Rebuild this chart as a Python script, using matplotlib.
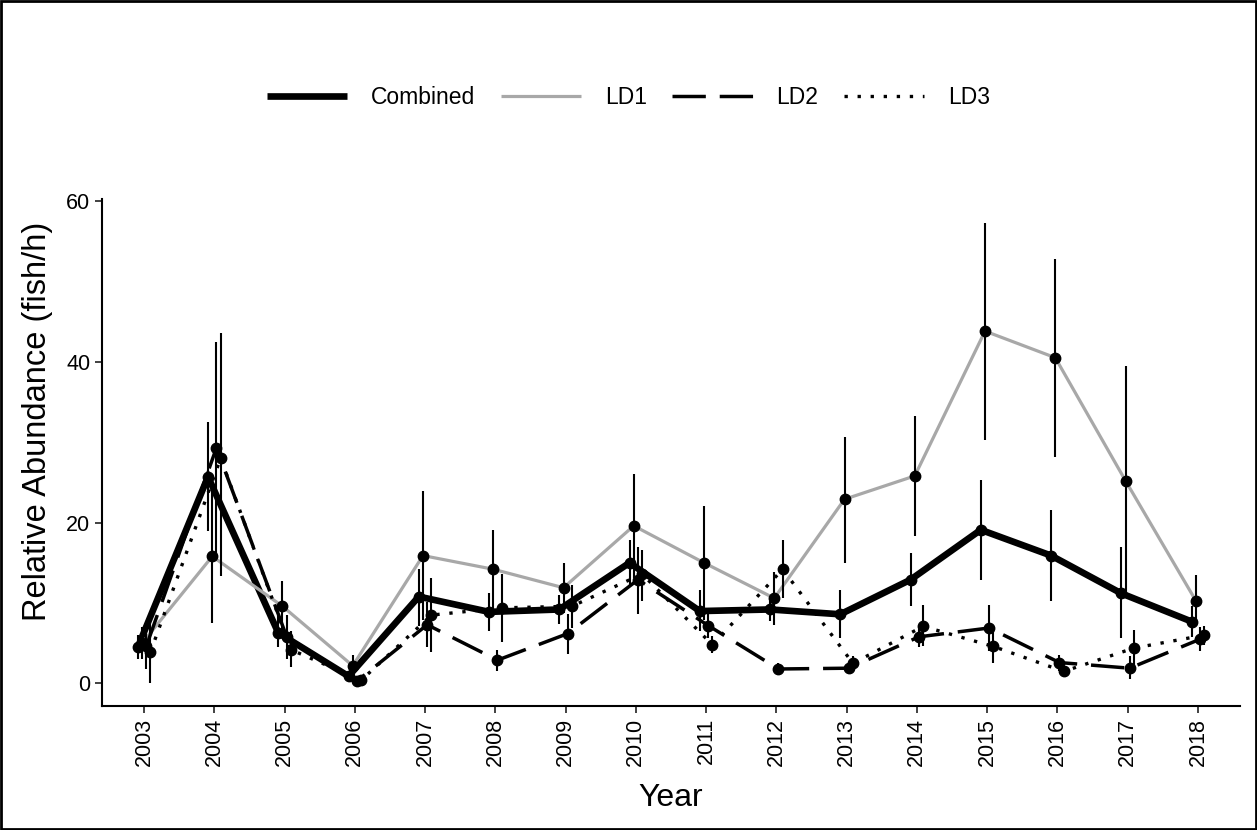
import numpy as np
import matplotlib
matplotlib.use("Agg")
import matplotlib.pyplot as plt
from matplotlib.patches import Rectangle

plt.rcParams["font.family"] = ["Liberation Sans", "DejaVu Sans"]
plt.rcParams["lines.scale_dashes"] = False

# valores
years = list(range(2003, 2019))
series_names = ["Combined", "LD1", "LD2", "LD3"]

combined    = [4.5, 25.7, 6.3, 0.9, 10.8, 8.9, 9.2, 15.0, 9.0, 9.2, 8.6, 12.9, 19.1, 15.9, 11.2, 7.7]
combined_lo = [3.0, 19.0, 4.5, 0.4, 7.2, 6.5, 7.4, 12.3, 6.5, 7.8, 5.6, 9.6, 12.9, 10.2, 5.6, 5.8]
combined_hi = [6.0, 32.5, 8.5, 1.4, 14.2, 11.3, 11.0, 17.8, 11.6, 10.6, 11.6, 16.2, 25.3, 21.6, 17.0, 9.6]

ld1    = [5.0, 15.8, 9.6, 2.2, 15.9, 14.2, 11.9, 19.6, 15.0, 10.6, 22.9, 25.8, 43.8, 40.5, 25.2, 10.3]
ld1_lo = [3.0, 7.5, 6.3, 0.8, 7.9, 9.3, 8.8, 13.1, 7.9, 7.3, 15.0, 18.3, 30.3, 28.2, 10.9, 7.1]
ld1_hi = [7.0, 24.1, 12.8, 3.6, 23.9, 19.1, 15.0, 26.1, 22.1, 13.9, 30.7, 33.3, 57.3, 52.8, 39.5, 13.5]

ld2    = [4.6, 29.3, 5.8, 0.3, 7.3, 2.9, 6.2, 12.9, 7.2, 1.8, 1.9, 5.8, 6.9, 2.6, 1.9, 5.5]
ld2_lo = [1.8, 16.2, 3.0, 0.0, 4.5, 1.6, 3.7, 8.6, 5.6, 1.0, 1.2, 4.5, 4.0, 1.6, 0.5, 4.0]
ld2_hi = [7.4, 42.4, 8.5, 0.7, 10.1, 4.2, 8.6, 17.0, 8.8, 2.6, 2.6, 7.1, 9.8, 3.6, 3.4, 7.0]

ld3    = [3.9, 28.0, 4.2, 0.4, 8.5, 9.4, 9.6, 13.6, 4.8, 14.2, 2.5, 7.1, 4.6, 1.5, 4.4, 6.0]
ld3_lo = [0.0, 13.3, 2.0, 0.1, 3.9, 5.2, 6.9, 10.2, 3.8, 10.6, 1.6, 4.6, 2.6, 0.9, 2.2, 4.8]
ld3_hi = [7.8, 43.6, 6.5, 0.8, 13.1, 13.6, 12.2, 16.6, 5.9, 17.8, 3.4, 9.8, 6.6, 2.1, 6.6, 7.2]


def main():
    fig = plt.figure(figsize=(12.57, 8.3), dpi=100)
    ax = fig.add_axes([0.0811, 0.1494, 0.9054, 0.6106])

    values = [combined, ld1, ld2, ld3]
    lows = [combined_lo, ld1_lo, ld2_lo, ld3_lo]
    highs = [combined_hi, ld1_hi, ld2_hi, ld3_hi]

    # estilos de cada série (dodge pequeno como no ggplot)
    styles = [
        dict(color="black", lw=4.8, ls="-", off=-0.09),
        dict(color="#a8a8a8", lw=2.3, ls="-", off=-0.03),
        dict(color="black", lw=2.5, ls=(0, (24, 10)), off=0.03),
        dict(color="black", lw=2.4, ls=(0, (2.4, 7)), off=0.09),
    ]

    x = np.array(years, dtype=float)
    handles = []
    for name, v, lo, hi, st in zip(series_names, values, lows, highs, styles):
        xs = x + st["off"]
        (ln,) = ax.plot(xs, v, color=st["color"], lw=st["lw"], ls=st["ls"],
                        solid_capstyle="butt", dash_capstyle="butt",
                        solid_joinstyle="miter", label=name, zorder=2)
        handles.append(ln)
        ax.vlines(xs, lo, hi, color="black", lw=1.5, zorder=3)
        ax.plot(xs, v, "o", color="black", ms=7.5, zorder=4)

    ax.set_xlim(2002.4, 2018.6)
    ax.set_ylim(-2.8, 60.2)
    ax.set_xticks(years)
    ax.set_xticklabels([str(y) for y in years], rotation=90)
    ax.set_yticks([0, 20, 40, 60])

    for side in ["top", "right"]:
        ax.spines[side].set_visible(False)
    for side in ["left", "bottom"]:
        ax.spines[side].set_linewidth(1.5)
    ax.tick_params(axis="both", labelsize=15.5, width=1.3, length=5,
                   color="#333333", labelcolor="black")

    ax.set_xlabel("Year", fontsize=23)
    ax.set_ylabel("Relative Abundance (fish/h)", fontsize=23.5)
    ax.xaxis.set_label_coords(0.5, -0.152)
    ax.yaxis.set_label_coords(-0.043, 0.562)

    fig.legend(handles=handles, labels=series_names, loc="center",
               bbox_to_anchor=(0.5, 0.882), ncol=4, frameon=False,
               fontsize=16.5, handlelength=3.5, handletextpad=1.05,
               columnspacing=1.1)

    # moldura em volta da figura
    fig.patches.append(Rectangle((0.001, 0.001), 0.998, 0.998,
                                 transform=fig.transFigure, fill=False,
                                 edgecolor="black", lw=2))

    fig.savefig("out.png", dpi=100)


if __name__ == "__main__":
    main()
